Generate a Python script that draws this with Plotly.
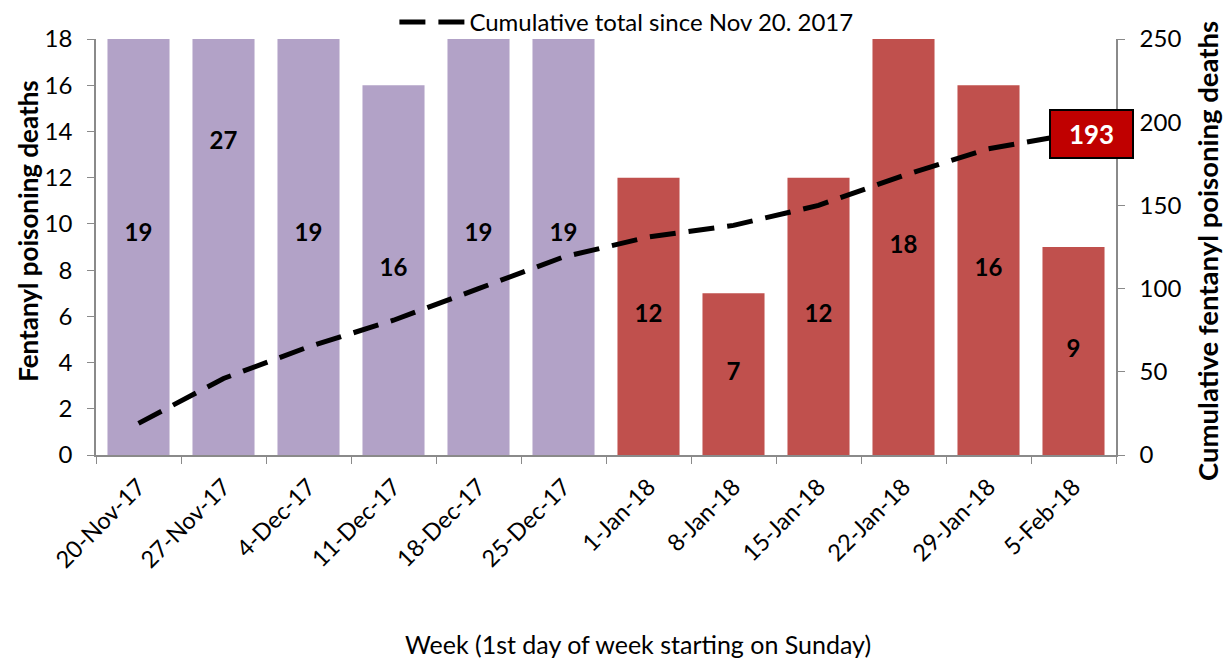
import plotly.graph_objects as go

weeks = ["20-Nov-17", "27-Nov-17", "4-Dec-17", "11-Dec-17", "18-Dec-17", "25-Dec-17",
         "1-Jan-18", "8-Jan-18", "15-Jan-18", "22-Jan-18", "29-Jan-18", "5-Feb-18"]
weekly_deaths = [19, 27, 19, 16, 19, 19, 12, 7, 12, 18, 16, 9]
bar_colors = ["#B2A2C7"] * 6 + ["#C0504D"] * 6
cumulative = []
_t = 0
for v in weekly_deaths:
    _t += v
    cumulative.append(_t)

FONT = "Lato"
AX = "#8A8A8A"

fig = go.Figure()
fig.add_trace(go.Bar(x=weeks, y=weekly_deaths, marker=dict(color=bar_colors, line=dict(width=0)),
                     showlegend=False, hoverinfo="x+y"))
fig.add_trace(go.Scatter(x=weeks, y=[v / 2 for v in weekly_deaths], mode="text",
                         text=[str(v) for v in weekly_deaths],
                         textfont=dict(family=FONT, size=24, color="black", weight="bold"),
                         showlegend=False, hoverinfo="skip"))
fig.add_trace(go.Scatter(x=weeks, y=cumulative, yaxis="y2", mode="lines",
                         name="Cumulative total since Nov 20. 2017",
                         line=dict(color="black", width=5, dash="26px,13px")))

fig.add_annotation(x=weeks[-1], y=cumulative[-1], xref="x", yref="y2", xshift=18,
                   text="<b>%d</b>" % cumulative[-1], showarrow=False,
                   font=dict(family=FONT, size=26, color="white"),
                   bgcolor="#C00000", bordercolor="black", borderwidth=2,
                   width=79, height=44, align="center", valign="middle")

fig.add_annotation(x=-0.066, y=0.538, xref="paper", yref="paper", textangle=-90,
                   xanchor="center", yanchor="middle",
                   text="<b>Fentanyl poisoning deaths</b>", showarrow=False,
                   font=dict(family=FONT, size=26, color="black"))
fig.add_annotation(x=1.089, y=0.49, xref="paper", yref="paper", textangle=-90,
                   xanchor="center", yanchor="middle",
                   text="<b>Cumulative fentanyl poisoning deaths</b>", showarrow=False,
                   font=dict(family=FONT, size=27.5, color="black"))
fig.add_annotation(x=0.531, y=-0.455, xref="paper", yref="paper",
                   xanchor="center", yanchor="middle",
                   text="Week (1st day of week starting on Sunday)", showarrow=False,
                   font=dict(family=FONT, size=25, color="black"))

fig.update_layout(
    width=1227, height=660,
    margin=dict(l=96, r=111, t=39, b=205, autoexpand=False),
    paper_bgcolor="white", plot_bgcolor="white",
    bargap=0.27,
    font=dict(family=FONT, size=23, color="black"),
    legend=dict(orientation="h", x=0.52, xanchor="center", y=1.04, yanchor="middle",
                itemwidth=65, font=dict(family=FONT, size=24), bgcolor="rgba(0,0,0,0)"),
    xaxis=dict(type="category", range=[-0.5, len(weeks) - 0.5], tickangle=-45,
               showline=True, linecolor=AX, linewidth=1.5,
               ticks="outside", tickson="boundaries", ticklen=7, tickcolor=AX,
               showgrid=False, tickfont=dict(size=23.5), automargin=False,
               ticklabelshift=0, ticklabelstandoff=7),
    yaxis=dict(range=[0, 18], dtick=2, showline=True, linecolor=AX, linewidth=1.5,
               ticks="outside", ticklen=7, tickcolor=AX, showgrid=False, zeroline=False,
               tickfont=dict(size=24), automargin=False, ticklabelstandoff=10),
    yaxis2=dict(range=[0, 250], dtick=50, overlaying="y", side="right", showline=True,
                linecolor=AX, linewidth=1.5, ticks="outside", ticklen=7, tickcolor=AX,
                showgrid=False, zeroline=False, tickfont=dict(size=24), automargin=False,
                ticklabelstandoff=10),
)

fig.write_html("out.html", config={"displayModeBar": False},
               post_script="document.body.style.margin='0';document.body.style.overflow='hidden';")
